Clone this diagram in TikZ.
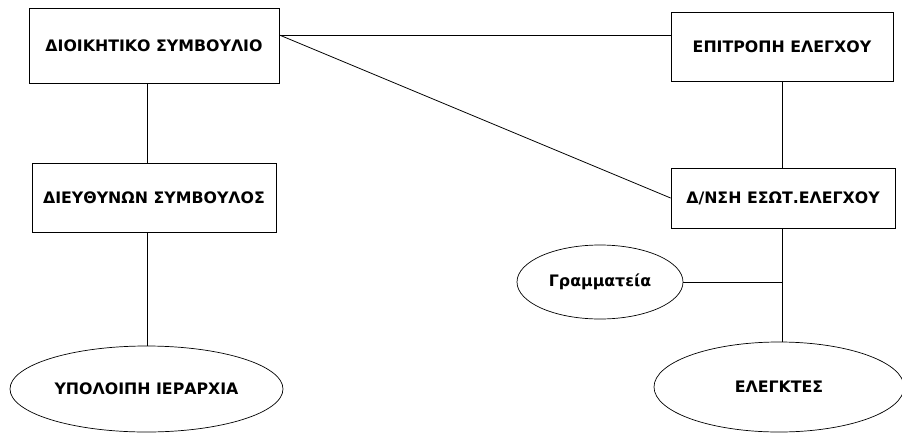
\documentclass[tikz,border=0pt]{standalone}
\usepackage{fontspec}
\setmainfont{DejaVu Sans}
\usetikzlibrary{shapes.geometric,calc}
\begin{document}
\begin{tikzpicture}[x=1pt,y=-1pt,
  every node/.style={font=\fontsize{15.8}{18}\selectfont\bfseries, inner sep=0pt},
  unitbox/.style={draw, line width=0.8pt, rectangle},
  oval/.style={draw, line width=0.7pt, ellipse},
  link/.style={draw, line width=0.8pt}]
  \useasboundingbox (0,0) rectangle (902,434);
  % left column
  \node[unitbox, minimum width=250pt, minimum height=75pt] (board) at (154,46) {ΔΙΟΙΚΗΤΙΚΟ ΣΥΜΒΟΥΛΙΟ};
  \node[unitbox, minimum width=244pt, minimum height=69pt] (ceo) at (154,197.5) {ΔΙΕΥΘΥΝΩΝ ΣΥΜΒΟΥΛΟΣ};
  \node[oval, minimum width=273pt, minimum height=86pt] (rest) at (146.5,389) {ΥΠΟΛΟΙΠΗ ΙΕΡΑΡΧΙΑ};
  % right column
  \node[unitbox, minimum width=222pt, minimum height=69pt] (audit) at (782,46.5) {ΕΠΙΤΡΟΠΗ ΕΛΕΓΧΟΥ};
  \node[unitbox, minimum width=224pt, minimum height=60pt] (ia) at (783,198) {Δ/ΝΣΗ ΕΣΩΤ.ΕΛΕΓΧΟΥ};
  \node[oval, minimum width=166pt, minimum height=74pt] (secr) at (600,282) {Γραμματεία};
  \node[oval, minimum width=250pt, minimum height=90pt] (aud) at (779,387) {ΕΛΕΓΚΤΕΣ};
  % connectors
  \coordinate (bx) at (147,0);
  \coordinate (rx) at (782,0);
  \coordinate (bp) at ([yshift=11pt]board.east);
  \draw[link] (board.south -| bx) -- (ceo.north -| bx);
  \draw[link] (ceo.south -| bx) -- (rest.north -| bx);
  \draw[link] (bp) -- (bp -| audit.west);
  \draw[link] (bp) -- (ia.west);
  \draw[link] (audit.south -| rx) -- (ia.north -| rx);
  \draw[link] (ia.south -| rx) -- (aud.north -| rx);
  \draw[link] (secr.east) -- (secr.east -| rx);
\end{tikzpicture}
\end{document}
